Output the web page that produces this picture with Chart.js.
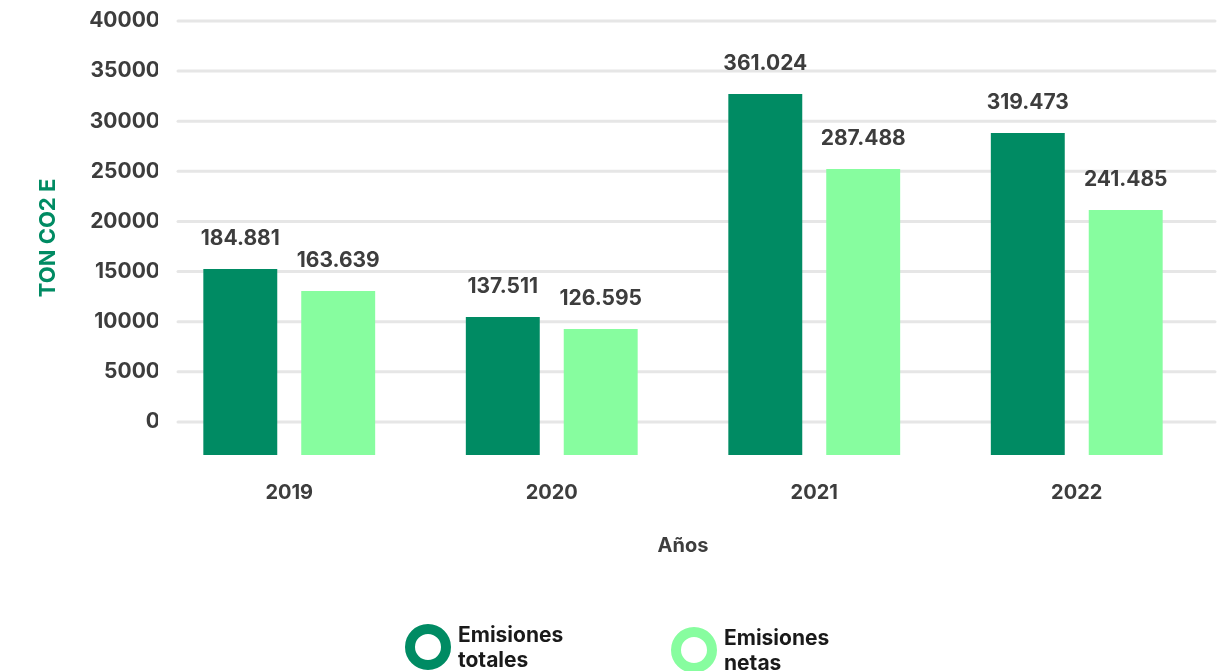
<!DOCTYPE html>
<html>
<head>
<meta charset="utf-8">
<script src="https://cdn.jsdelivr.net/npm/chart.js@4"></script>
<style>
  html, body { margin: 0; padding: 0; background: #fff; }
  #wrap { position: relative; width: 1220px; height: 671px; }
  .item { position: absolute; display: flex; align-items: center; font-family: Inter, sans-serif; font-weight: 700; font-size: 21px; line-height: 25px; color: #1a1a1a; }
  .ring { width: 26px; height: 26px; border-radius: 50%; border: 10px solid; margin-right: 7px; }
</style>
</head>
<body>
<div id="wrap">
  <canvas id="chart" width="1220" height="671"></canvas>
  <div class="item" style="left:405px; top:622px;"><div class="ring" style="border-color:#008b63"></div><div>Emisiones<br>totales</div></div>
  <div class="item" style="left:671px; top:625px;"><div class="ring" style="border-color:#87fd9f"></div><div>Emisiones<br>netas</div></div>
</div>
<script>
// Chart data
const years = ['2019', '2020', '2021', '2022'];
const totalValues = [15260, 10470, 32720, 28830];
const netValues = [13070, 9280, 25240, 21150];
const totalLabels = ['184.881', '137.511', '361.024', '319.473'];
const netLabels = ['163.639', '126.595', '287.488', '241.485'];
const yTicks = [0, 5000, 10000, 15000, 20000, 25000, 30000, 35000, 40000];
const axisMin = -3300;
const axisMax = 40000;

const darkGreen = '#008b63';
const lightGreen = '#87fd9f';
const textColor = '#3d3d3d';
const fontFamily = 'Inter, sans-serif';

// grid lines drawn a bit wider than the chart area, rounded ends
const gridPlugin = {
    id: 'grid',
    beforeDatasetsDraw(chart) {
        const ctx = chart.ctx;
        const y = chart.scales.y;
        ctx.save();
        ctx.strokeStyle = '#e6e6e6';
        ctx.lineWidth = 3;
        ctx.lineCap = 'round';
        yTicks.forEach(function(v) {
            const py = y.getPixelForValue(v);
            ctx.beginPath();
            ctx.moveTo(chart.chartArea.left + 20, py);
            ctx.lineTo(chart.chartArea.right + 7, py);
            ctx.stroke();
        });
        ctx.restore();
    }
};

// value labels above the bars
const labelPlugin = {
    id: 'barLabels',
    afterDatasetsDraw(chart) {
        const ctx = chart.ctx;
        const texts = [totalLabels, netLabels];
        ctx.save();
        ctx.font = 'bold 21px ' + fontFamily;
        ctx.fillStyle = textColor;
        ctx.textAlign = 'center';
        ctx.textBaseline = 'middle';
        chart.data.datasets.forEach(function(ds, i) {
            chart.getDatasetMeta(i).data.forEach(function(bar, j) {
                ctx.fillText(texts[i][j], bar.x, bar.y - 30);
            });
        });
        ctx.restore();
    }
};

new Chart(document.getElementById('chart'), {
    type: 'bar',
    data: {
        labels: years,
        datasets: [
            { label: 'Emisiones totales', data: totalValues, backgroundColor: darkGreen, base: axisMin },
            { label: 'Emisiones netas', data: netValues, backgroundColor: lightGreen, base: axisMin }
        ]
    },
    options: {
        responsive: false,
        animation: false,
        categoryPercentage: 0.746,
        barPercentage: 0.755,
        layout: { padding: { top: 21, right: 12, bottom: 113, left: 0 } },
        plugins: {
            legend: { display: false },
            tooltip: { enabled: false }
        },
        scales: {
            x: {
                grid: { display: false, drawTicks: false },
                border: { display: false },
                afterFit(scale) { scale.height = 103; },
                ticks: { color: textColor, padding: 26, font: { family: fontFamily, size: 20, weight: 'bold' } },
                title: { display: true, text: 'Años', color: textColor, padding: { top: 30, bottom: 0 }, font: { family: fontFamily, size: 20, weight: 'bold' } }
            },
            y: {
                min: axisMin,
                max: axisMax,
                grid: { display: false, drawTicks: false },
                border: { display: false },
                afterBuildTicks(scale) {
                    scale.ticks = yTicks.map(function(v) { return { value: v }; });
                },
                afterFit(scale) { scale.width = 158; },
                ticks: {
                    color: textColor, padding: -2, font: { family: fontFamily, size: 21, weight: 'bold' },
                    callback: function(v) { return String(v); }
                },
                title: { display: true, text: 'TON CO2 E', color: darkGreen, padding: { top: 35, bottom: 0 }, font: { family: fontFamily, size: 22, weight: 'bold' } }
            }
        }
    },
    plugins: [gridPlugin, labelPlugin]
});
</script>
</body>
</html>
